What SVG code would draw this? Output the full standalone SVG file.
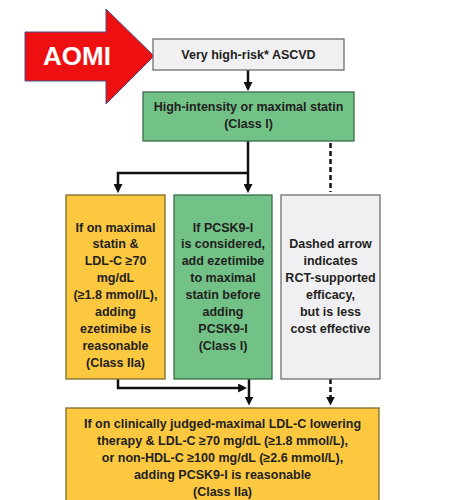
<svg xmlns="http://www.w3.org/2000/svg" width="453" height="500" viewBox="0 0 453 500">
<style>
.t{font-family:"Liberation Sans",Arial,sans-serif;font-weight:bold;font-size:12.5px;fill:#231f20;text-anchor:middle}
.gray{fill:#f0f0f2;stroke:#6e6e6e;stroke-width:1.3}
.green{fill:#72c287;stroke:#3d6b49;stroke-width:1.3}
.yellow{fill:#fcc840;stroke:#7d6a2c;stroke-width:1.3}
.c{fill:none;stroke:#111;stroke-width:2.5}
.d{stroke-dasharray:5 3}
</style>
<defs>
<marker id="ah" viewBox="0 0 10 10" refX="6" refY="5" markerWidth="9" markerHeight="9" markerUnits="userSpaceOnUse" orient="auto">
<path d="M0,0 L10,5 L0,10 z" fill="#111"/>
</marker>
</defs>
<rect width="453" height="500" fill="#fff"/>
<g id="aomi">
<polygon points="25,32 106,32 106,9 154,56 106,104 106,81 25,81" fill="#ee1010" stroke="#46508a" stroke-width="1"/>
<text x="77" y="65" font-family="Liberation Sans,Arial,sans-serif" font-weight="bold" font-size="26" fill="#fff" text-anchor="middle">AOMI</text>
</g>
<g id="connectors">
<path class="c" d="M248,70 V87.5" marker-end="url(#ah)"/>
<path class="c" d="M248,141 V189.5" marker-end="url(#ah)"/>
<path class="c" d="M248,173 H118 V189.5" marker-end="url(#ah)"/>
<path class="c d" d="M330.5,143 V192"/>
<path class="c" d="M118,379 V388 H243.5" marker-end="url(#ah)"/>
<path class="c" d="M249,379 V402" marker-end="url(#ah)"/>
<path class="c d" d="M330.5,379 V402" marker-end="url(#ah)"/>
</g>
<g id="n1">
<rect class="gray" x="153" y="39" width="191" height="31"/>
<text class="t" x="248.5" y="59" font-size="12">Very high-risk* ASCVD</text>
</g>
<g id="n2">
<rect class="green" x="143" y="92" width="211" height="49"/>
<text class="t" x="248.5" y="111">High-intensity or maximal statin</text>
<text class="t" x="248.5" y="128">(Class I)</text>
</g>
<g id="n3">
<rect class="yellow" x="66" y="195" width="99" height="184"/>
<text class="t" x="115.5" y="231.5">If on maximal</text>
<text class="t" x="115.5" y="248.4">statin &amp;</text>
<text class="t" x="115.5" y="265.3">LDL-C ≥70</text>
<text class="t" x="115.5" y="282.2">mg/dL</text>
<text class="t" x="115.5" y="299.1">(≥1.8 mmol/L),</text>
<text class="t" x="115.5" y="316">adding</text>
<text class="t" x="115.5" y="332.9">ezetimibe is</text>
<text class="t" x="115.5" y="349.8">reasonable</text>
<text class="t" x="115.5" y="366.7">(Class IIa)</text>
</g>
<g id="n4">
<rect class="green" x="174" y="195" width="98" height="184"/>
<text class="t" x="223" y="231.5">If PCSK9-I</text>
<text class="t" x="223" y="248.4">is considered,</text>
<text class="t" x="223" y="265.3">add ezetimibe</text>
<text class="t" x="223" y="282.2">to maximal</text>
<text class="t" x="223" y="299.1">statin before</text>
<text class="t" x="223" y="316">adding</text>
<text class="t" x="223" y="332.9">PCSK9-I</text>
<text class="t" x="223" y="349.8">(Class I)</text>
</g>
<g id="n5">
<rect class="gray" x="281" y="195" width="99" height="184"/>
<text class="t" x="330.5" y="248.4">Dashed arrow</text>
<text class="t" x="330.5" y="265.3">indicates</text>
<text class="t" x="330.5" y="282.2">RCT-supported</text>
<text class="t" x="330.5" y="299.1">efficacy,</text>
<text class="t" x="330.5" y="316">but is less</text>
<text class="t" x="330.5" y="332.9">cost effective</text>
</g>
<g id="n6">
<rect class="yellow" x="66" y="408" width="313" height="96"/>
<text class="t" x="222.5" y="428">If on clinically judged-maximal LDL-C lowering</text>
<text class="t" x="222.5" y="445">therapy &amp; LDL-C ≥70 mg/dL (≥1.8 mmol/L),</text>
<text class="t" x="222.5" y="462">or non-HDL-C ≥100 mg/dL (≥2.6 mmol/L),</text>
<text class="t" x="222.5" y="479">adding PCSK9-I is reasonable</text>
<text class="t" x="222.5" y="496">(Class IIa)</text>
</g>
</svg>
